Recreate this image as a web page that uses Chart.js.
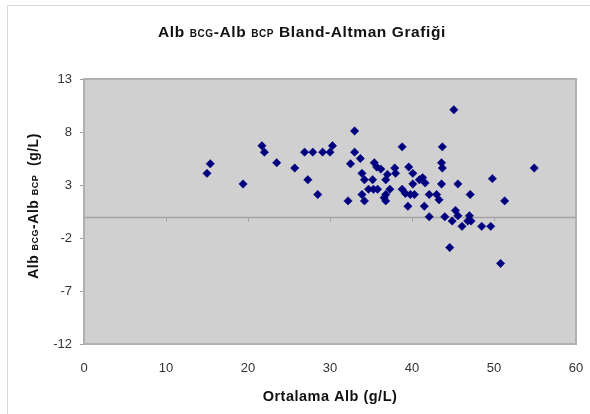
<!DOCTYPE html>
<html><head><meta charset="utf-8">
<script src="https://cdn.jsdelivr.net/npm/chart.js@4"></script>
<style>html,body{margin:0;padding:0;background:#fff;}canvas{display:block}</style>
</head><body>
<canvas id="c" width="590" height="414"></canvas>
<script>
const meanAlb = [15.0,15.4,19.4,21.7,22.0,23.5,25.7,26.9,27.3,27.9,28.5,29.1,30.0,30.3,32.2,32.5,33.0,33.0,33.7,33.9,34.2,33.9,34.2,34.7,35.2,35.3,35.4,35.7,35.8,36.2,36.8,37.0,36.8,36.6,36.8,37.3,37.9,38.0,38.8,38.8,39.2,39.5,39.6,39.8,40.1,40.1,40.3,40.9,41.3,41.6,41.5,42.1,42.1,43.0,43.3,43.6,43.7,43.6,43.7,44.0,44.6,44.9,45.1,45.3,45.6,45.6,46.1,46.8,47.0,47.2,47.1,48.5,49.6,49.8,50.8,51.3,54.9];
const diffAlb = [4.1,5.0,3.1,6.7,6.1,5.1,4.6,6.1,3.5,6.1,2.1,6.1,6.1,6.7,1.5,5.0,8.1,6.1,5.5,4.1,3.5,2.1,1.5,2.6,3.5,2.6,5.1,4.7,2.6,4.5,3.5,4.0,2.1,1.8,1.5,2.6,4.6,4.1,6.6,2.6,2.2,1.0,4.7,2.1,4.1,3.1,2.1,3.5,3.7,3.2,1.0,2.1,0.0,2.1,1.6,5.1,4.6,3.1,6.6,0.0,-2.9,-0.4,10.1,0.6,0.1,3.1,-0.9,-0.4,0.1,-0.4,2.1,-0.9,-0.9,3.6,-4.4,1.5,4.6];
const xTicks = [0,10,20,30,40,50,60];
const yTicks = [-12,-7,-2,3,8,13];
const titleParts = [["Alb ",false],["BCG",true],["-Alb ",false],["BCP",true],[" Bland-Altman Grafiği",false]];
const yTitleParts = [["Alb ",false],["BCG",true],["-Alb ",false],["BCP",true],["  (g/L)",false]];
const xTitle = "Ortalama Alb (g/L)";

const FONT = "'Liberation Sans', Arial, sans-serif";
function drawParts(ctx, parts, big, small, spacing) {
  const widths = []; let total = 0;
  ctx.letterSpacing = spacing + 'px';
  parts.forEach(([t, s]) => {
    ctx.font = 'bold ' + (s ? small : big) + 'px ' + FONT;
    const w = ctx.measureText(t).width; widths.push(w); total += w;
  });
  let x = -total / 2;
  ctx.textBaseline = 'alphabetic'; ctx.textAlign = 'left';
  parts.forEach(([t, s], i) => {
    ctx.font = 'bold ' + (s ? small : big) + 'px ' + FONT;
    ctx.fillText(t, x, 0); x += widths[i];
  });
  ctx.letterSpacing = '0px';
}

const deco = {
  id: 'deco',
  beforeDraw(chart) {
    const {ctx, chartArea: a} = chart;
    ctx.save();
    ctx.fillStyle = '#fff'; ctx.fillRect(0, 0, chart.width, chart.height);
    ctx.strokeStyle = '#d9d9d9'; ctx.lineWidth = 1;
    ctx.strokeRect(7.5, 5.5, 620, 440);
    ctx.fillStyle = '#d0d0d0';
    ctx.fillRect(a.left, a.top, a.right - a.left, a.bottom - a.top);
    ctx.restore();
  },
  beforeDatasetsDraw(chart) {
    const {ctx, chartArea: a, scales: {x, y}} = chart;
    ctx.save();
    ctx.strokeStyle = '#b0b0b0'; ctx.lineWidth = 2;
    ctx.strokeRect(a.left, a.top, a.right - a.left, a.bottom - a.top);
    const y0 = Math.round(y.getPixelForValue(0)) + 0.5;
    ctx.strokeStyle = '#a4a4a4'; ctx.lineWidth = 1.5;
    ctx.beginPath(); ctx.moveTo(a.left, y0); ctx.lineTo(a.right, y0); ctx.stroke();
    ctx.lineWidth = 1;
    xTicks.slice(1, -1).forEach(v => {
      const px = Math.round(x.getPixelForValue(v)) + 0.5;
      ctx.beginPath(); ctx.moveTo(px, y0); ctx.lineTo(px, y0 + 4); ctx.stroke();
    });
    ctx.restore();
  },
  afterDraw(chart) {
    const {ctx} = chart;
    ctx.save();
    ctx.fillStyle = '#111';
    ctx.translate(302, 37);
    drawParts(ctx, titleParts, 15.5, 10, 0.6);
    ctx.restore();
    ctx.save();
    ctx.fillStyle = '#111';
    ctx.translate(38, 206); ctx.rotate(-Math.PI / 2);
    drawParts(ctx, yTitleParts, 14, 9, 0.5);
    ctx.restore();
    ctx.save();
    ctx.fillStyle = '#111';
    ctx.translate(330, 401);
    drawParts(ctx, [[xTitle, false]], 14.5, 10, 0.5);
    ctx.restore();
  }
};

new Chart(document.getElementById('c'), {
  type: 'scatter',
  data: {
    datasets: [{
      data: meanAlb.map((m, i) => ({x: m, y: diffAlb[i]})),
      pointStyle: 'rectRot',
      pointRadius: 4.2,
      pointHoverRadius: 4.2,
      backgroundColor: '#00007f',
      borderColor: '#00007f',
      borderWidth: 0.5
    }]
  },
  options: {
    responsive: false,
    animation: false,
    devicePixelRatio: 1,
    layout: {padding: {left: 0, top: 79, right: 14, bottom: 0}},
    plugins: {legend: {display: false}, tooltip: {enabled: false}, title: {display: false}},
    scales: {
      x: {
        type: 'linear', min: xTicks[0], max: xTicks[xTicks.length - 1],
        afterBuildTicks: s => { s.ticks = xTicks.map(v => ({value: v})); },
        afterFit: s => { s.height = 70; },
        grid: {display: false, drawTicks: true, tickLength: 12},
        border: {display: false},
        ticks: {padding: 5, color: '#333', font: {family: FONT, size: 13}, maxRotation: 0}
      },
      y: {
        type: 'linear', min: yTicks[0], max: yTicks[yTicks.length - 1],
        afterBuildTicks: s => { s.ticks = yTicks.map(v => ({value: v})); },
        afterFit: s => { s.width = 84; },
        grid: {display: true, drawOnChartArea: false, drawTicks: true, tickLength: 4, color: '#a0a0a0'},
        border: {display: false},
        ticks: {padding: 8, color: '#333', font: {family: FONT, size: 13}}
      }
    }
  },
  plugins: [deco]
});
</script>
</body></html>
